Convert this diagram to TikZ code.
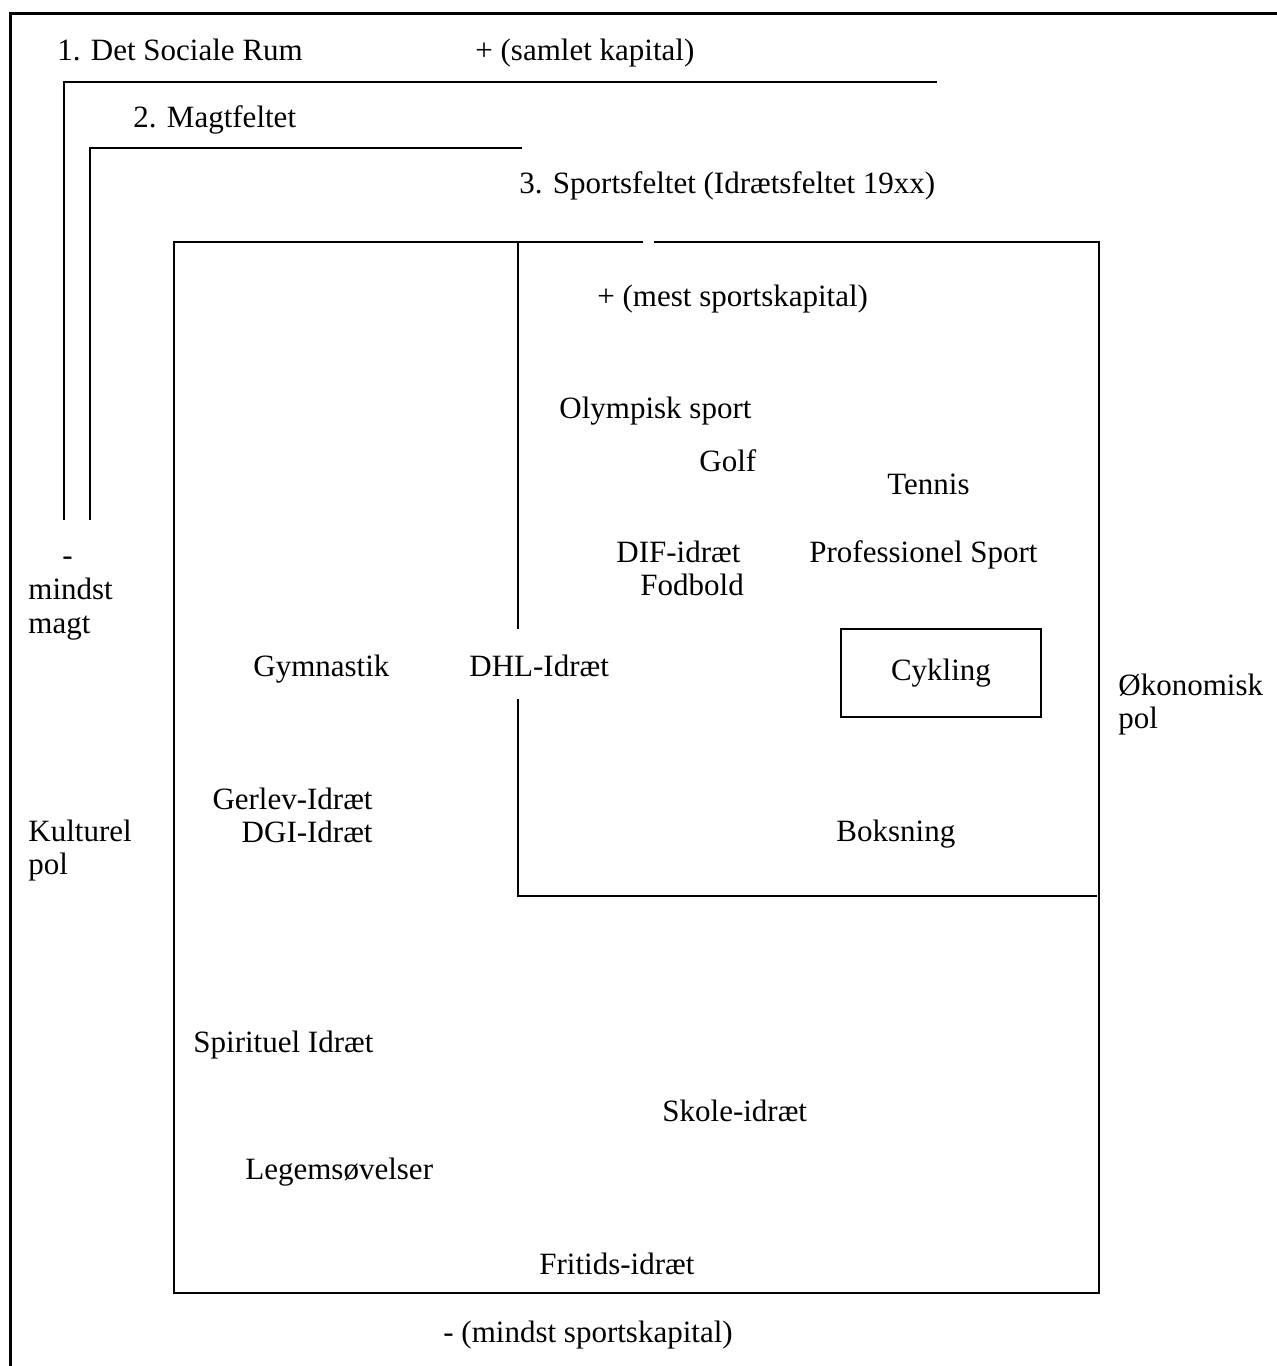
\documentclass[tikz,border=0pt]{standalone}
\usepackage{fontspec}
\setmainfont{Liberation Serif}
\begin{document}
\begin{tikzpicture}[x=0.5pt,y=-0.5pt,
  lbl/.style={anchor=base west,inner sep=0pt,font=\fontsize{15.5}{16.5}\selectfont},
  field/.style={line width=0.9pt}]
\useasboundingbox (0,0) rectangle (1277,1366);

% Outer frame (runs off the page right and below)
\draw[line width=1.5pt] (10,1366) -- (10,13) -- (1277,13);

% Nested fields
\draw[field] (64,520) -- (64,82) -- (937,82);
\draw[field] (90,520) -- (90,148) -- (522,148);
\draw[field] (643,242) -- (174,242) -- (174,1293) -- (1099,1293) -- (1099,242) -- (654,242);

% Upper right quarter
\draw[field] (518,242) -- (518,629);
\draw[field] (518,699) -- (518,896) -- (1097,896);

% Field titles
\node[lbl] (sociale) at (57,60) {1. Det Sociale Rum};
\node[lbl] (samlet) at (475,60) {+ (samlet kapital)};
\node[lbl] (magt) at (133,127) {2. Magtfeltet};
\node[lbl] (sport) at (519,193) {3. Sportsfeltet (Idrætsfeltet 19xx)};

% Poles (base = last line)
\node[lbl,align=left,font=\fontsize{15.5}{17}\selectfont] (mindst) at (28,633) {\hspace*{17pt}-\\mindst\\magt};
\node[lbl,align=left] (kultur) at (28,874) {Kulturel\\pol};
\node[lbl,align=left] (okonom) at (1118,728) {Økonomisk\\pol};
\node[lbl] (mest) at (597,306) {+ (mest sportskapital)};
\node[lbl] (mindstsport) at (443,1342) {- (mindst sportskapital)};

% Sports
\node[lbl] (olymp) at (559,418) {Olympisk sport};
\node[lbl] (golf) at (699,471) {Golf};
\node[lbl] (tennis) at (887,494) {Tennis};
\node[lbl] (dif) at (616,562) {DIF-idræt};
\node[lbl] (fodbold) at (640,595) {Fodbold};
\node[lbl] (prof) at (809,562) {Professionel Sport};
\node[lbl] (gymn) at (253,676) {Gymnastik};
\node[lbl] (dhl) at (469,676) {DHL-Idræt};
\node[draw,line width=0.9pt,minimum width=100pt,minimum height=44pt,
  font=\fontsize{15.5}{16.5}\selectfont] (cykling) at (941,673) {Cykling};
\node[lbl,anchor=base east,align=right] (gerlev) at (373,842) {Gerlev-Idræt\\DGI-Idræt};
\node[lbl] (boks) at (836,841) {Boksning};
\node[lbl] (spirit) at (193,1052) {Spirituel Idræt};
\node[lbl] (skole) at (662,1121) {Skole-idræt};
\node[lbl] (legem) at (245,1179) {Legemsøvelser};
\node[lbl] (fritid) at (539,1274) {Fritids-idræt};
\end{tikzpicture}
\end{document}
